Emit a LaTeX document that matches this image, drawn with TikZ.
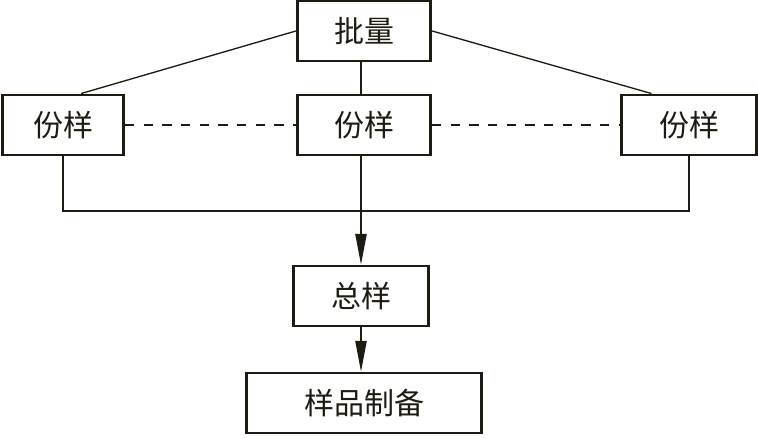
\documentclass[tikz,border=0pt]{standalone}
\usepackage{fontspec}
\newfontfamily\cjk{Noto Sans CJK SC}
\usetikzlibrary{calc,arrows.meta,positioning}
\definecolor{ink}{RGB}{30,28,18}

\begin{document}
\begin{tikzpicture}[x=0.75pt,y=-0.75pt]

\tikzset{stepbox/.style={draw=ink,line width=2.2pt,fill=white,minimum height=45pt,inner sep=0pt,font=\cjk\fontsize{22.5}{22.5}\selectfont,text=ink},
link/.style={draw=ink,line width=1pt},
dashlink/.style={draw=ink,line width=1pt,dash pattern=on 7pt off 7pt},
flow/.style={link,-{Triangle[length=23pt,width=8.5pt]}}}

\useasboundingbox (0,0) rectangle (758,438);

% top and sub-lots
\node[stepbox,minimum width=100pt] (batch) at (364,31) {批量};
\node[stepbox,minimum width=91pt] (lsub) at (63,125) {份样};
\node[stepbox,minimum width=100pt] (msub) at (364,125) {份样};
\node[stepbox,minimum width=101pt] (rsub) at (689,125) {份样};

% lower steps
\node[stepbox,minimum width=101pt] (total) at (361,296) {总样};
\node[stepbox,minimum width=176pt] (prep) at (364,403) {样品制备};

\coordinate (join) at (361,211);

% Edges
\draw[link] (batch.west) -- (lsub.60);
\draw[link] (batch.east) -- (rsub.140);
\draw[link] (batch.south -| join) -- (msub.north -| join);
\draw[dashlink] (lsub.east) -- (msub.west);
\draw[dashlink] (msub.east) -- (rsub.west);
\draw[link] (lsub.south) |- (join) -| (rsub.south);
\draw[flow] (msub.south -| join) -- (total.north);
\draw[flow] (total.south) -- (prep.north -| total);

\end{tikzpicture}
\end{document}
